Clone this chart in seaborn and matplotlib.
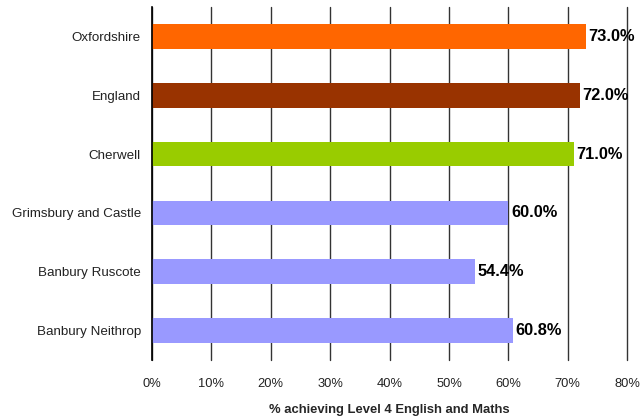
import matplotlib
matplotlib.use("Agg")
import matplotlib.pyplot as plt
import seaborn as sns
import pandas as pd

categories = ["Oxfordshire", "England", "Cherwell", "Grimsbury and Castle",
              "Banbury Ruscote", "Banbury Neithrop"]
values = [73.0, 72.0, 71.0, 60.0, 54.4, 60.8]
colors = ["#FF6600", "#993300", "#99CC00", "#9999FF", "#9999FF", "#9999FF"]
xticks = [0, 10, 20, 30, 40, 50, 60, 70, 80]
xlabel = "% achieving Level 4 English and Maths"

sns.set_theme(style="white")
plt.rcParams['font.family'] = ['Liberation Sans', 'DejaVu Sans']

df = pd.DataFrame({"cat": categories, "val": values})

fig = plt.figure(figsize=(6.4, 4.18), dpi=100)
ax = fig.add_axes([0.2375, 0.139, 0.7425, 0.844])
sns.barplot(data=df, x="val", y="cat", hue="cat", palette=colors, order=categories,
            hue_order=categories, legend=False, width=0.42, ax=ax, saturation=1,
            linewidth=0, zorder=3)

ax.set_xlim(0, 80)
ax.set_xticks(xticks)
ax.set_xticklabels([f"{t}%" for t in xticks], fontsize=9.3, color="#222222")
ax.tick_params(axis="y", labelsize=9.6, labelcolor="#222222", length=0, pad=8)
ax.tick_params(axis="x", length=0, pad=13)
ax.grid(axis="x", color="#333333", linewidth=1.0, zorder=0)
for gl in ax.get_xgridlines():
    gl.set_clip_on(False)
ax.set_axisbelow(True)
for s in ["top", "right", "bottom"]:
    ax.spines[s].set_visible(False)
ax.spines["left"].set_color("black")
ax.spines["left"].set_linewidth(1.2)
ax.spines["left"].set_zorder(5)
ax.set_ylabel("")
ax.set_xlabel(xlabel, fontsize=9.4, fontweight="bold", labelpad=10)

for i, v in enumerate(values):
    ax.text(v + 0.45, i, f"{v:.1f}%", va="center", ha="left", fontsize=11.8,
            fontweight="bold", color="black", zorder=6)

fig.savefig("out.png", dpi=100)
